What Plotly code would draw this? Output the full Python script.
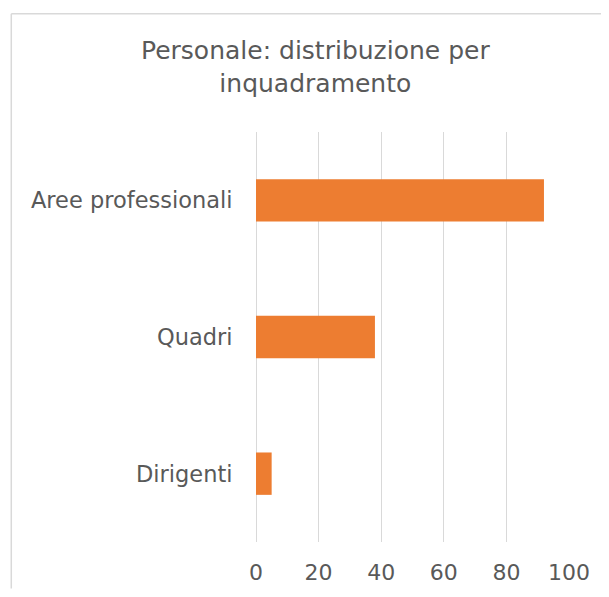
import plotly.graph_objects as go

categories = ["Dirigenti", "Quadri", "Aree professionali"]
values = [5, 38, 92]
x_ticks = [0, 20, 40, 60, 80, 100]
title_text = "Personale: distribuzione per<br>inquadramento"

# page has an 8px body margin: work in page pixels and subtract it
OFF = 8
W, H = 609 - OFF, 597 - 2 * OFF
L, R = 255.5 - OFF, 569.5 - OFF
T, B = 131.5 - OFF, 542.5 - OFF
pw, ph = R - L, B - T

def px_to_paper_x(px):
    return (px - OFF - L) / pw

def px_to_paper_y(py):
    return (B - (py - OFF)) / ph

font_family = "'DejaVu Sans', sans-serif"
text_color = "#595959"
grid_color = "#D9D9D9"

fig = go.Figure(
    go.Bar(
        x=values,
        y=categories,
        orientation="h",
        marker=dict(color="#ED7D31", line=dict(width=0)),
        width=0.31,
        hoverinfo="x+y",
    )
)

border_x = px_to_paper_x(10)
border_y = px_to_paper_y(13)

fig.update_layout(
    template="none",
    width=W,
    height=H,
    margin=dict(l=L, r=W - R, t=T, b=H - B, pad=0, autoexpand=False),
    paper_bgcolor="white",
    plot_bgcolor="white",
    showlegend=False,
    font=dict(family=font_family, color=text_color, size=22),
    xaxis=dict(
        range=[0, 100],
        tickvals=x_ticks,
        ticktext=[str(v) for v in x_ticks],
        automargin=False,
        showgrid=True,
        gridcolor=grid_color,
        gridwidth=1.3,
        zeroline=True,
        zerolinecolor=grid_color,
        zerolinewidth=1.3,
        showline=False,
        ticks="outside",
        ticklen=11,
        tickcolor="rgba(0,0,0,0)",
        tickfont=dict(size=22, color=text_color),
        fixedrange=True,
    ),
    yaxis=dict(
        categoryorder="array",
        categoryarray=categories,
        automargin=False,
        showgrid=False,
        zeroline=False,
        showline=False,
        ticks="outside",
        ticklen=18,
        tickcolor="rgba(0,0,0,0)",
        tickfont=dict(size=22.5, color=text_color),
        fixedrange=True,
    ),
    annotations=[
        dict(
            text=title_text,
            x=px_to_paper_x(315),
            y=px_to_paper_y(66),
            xref="paper",
            yref="paper",
            xanchor="center",
            yanchor="middle",
            showarrow=False,
            align="center",
            font=dict(size=25, color=text_color, family=font_family),
        )
    ],
    shapes=[
        dict(
            type="line",
            xref="paper",
            yref="paper",
            x0=border_x,
            y0=border_y,
            x1=px_to_paper_x(W + OFF - 0.5),
            y1=border_y,
            line=dict(color=grid_color, width=1.5),
            layer="below",
        ),
        dict(
            type="line",
            xref="paper",
            yref="paper",
            x0=border_x,
            y0=border_y,
            x1=border_x,
            y1=px_to_paper_y(H + OFF),
            line=dict(color=grid_color, width=1.5),
            layer="below",
        ),
    ],
)

fig.write_html("out.html", config={"displayModeBar": False})
